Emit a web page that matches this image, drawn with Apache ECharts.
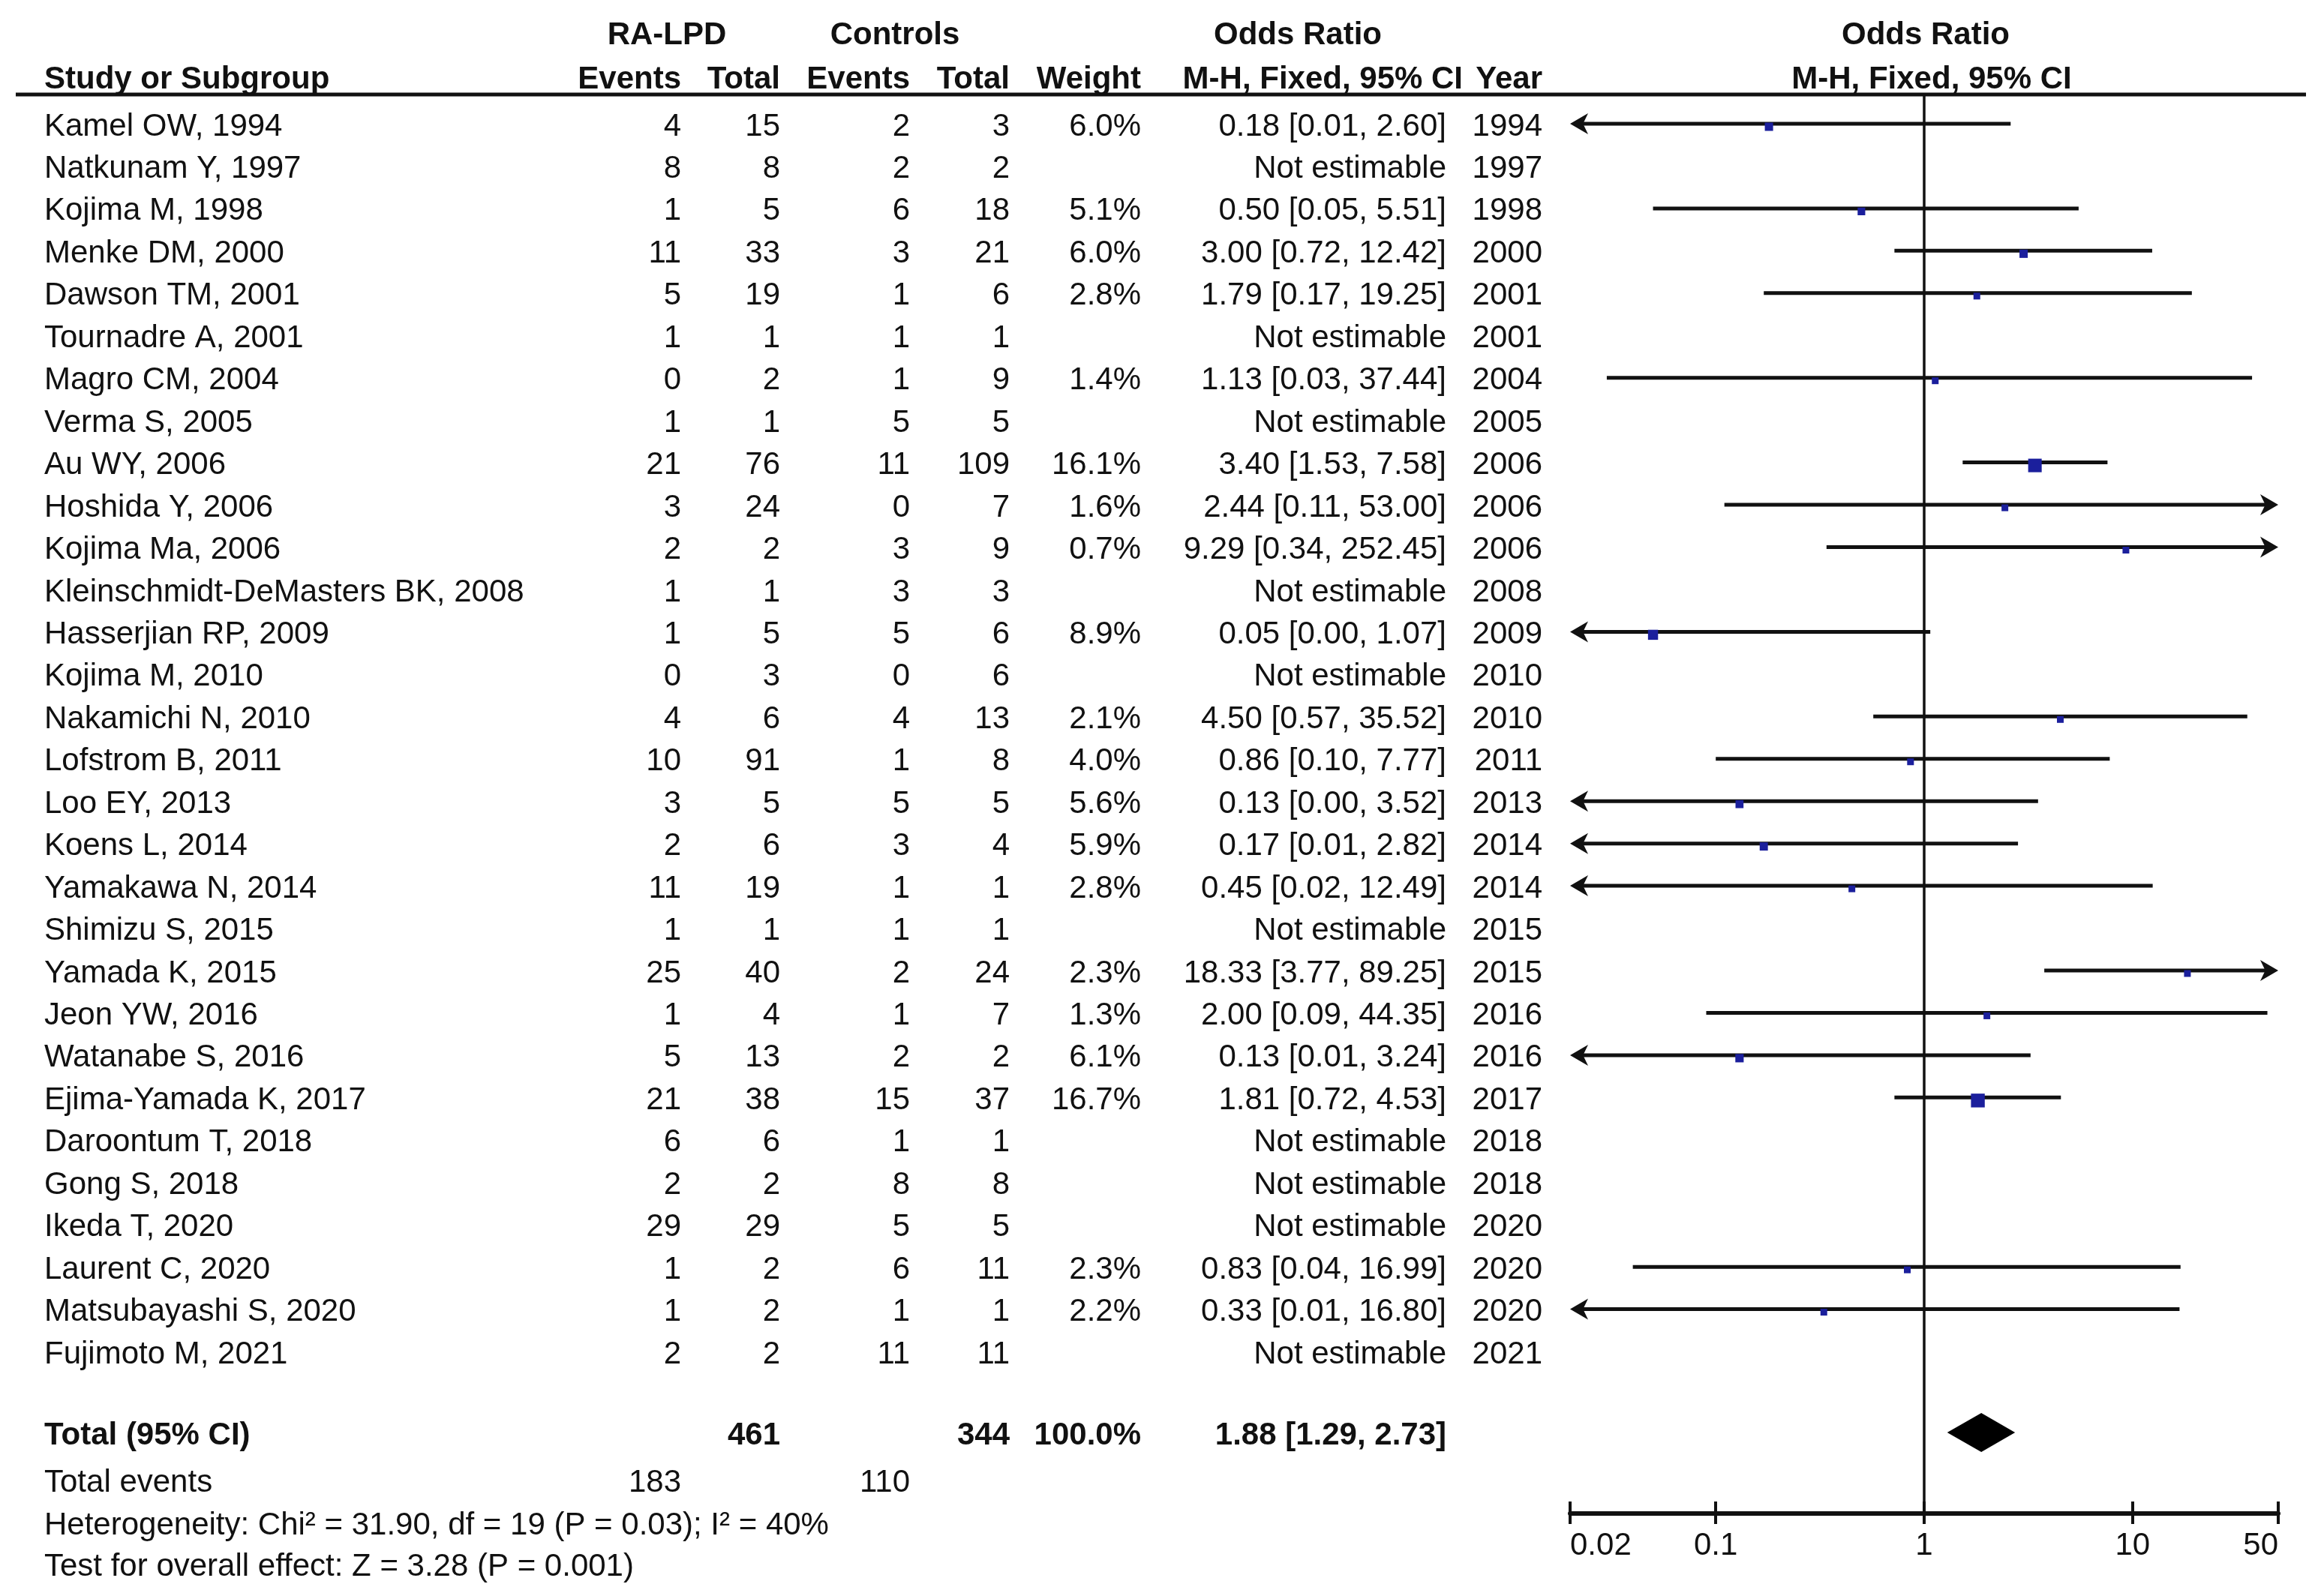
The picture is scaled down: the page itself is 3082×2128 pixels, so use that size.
<!DOCTYPE html>
<html><head><meta charset="utf-8">
<script src="https://cdn.jsdelivr.net/npm/echarts@6/dist/echarts.min.js"></script>
<style>html,body{margin:0;padding:0;background:#fff}#c{width:3082px;height:2128px}</style>
</head><body><div id="c"></div>
<script>
// ---------------- DATA ----------------
const studies = ["Kamel OW, 1994","Natkunam Y, 1997","Kojima M, 1998","Menke DM, 2000","Dawson TM, 2001","Tournadre A, 2001","Magro CM, 2004","Verma S, 2005","Au WY, 2006","Hoshida Y, 2006","Kojima Ma, 2006","Kleinschmidt-DeMasters BK, 2008","Hasserjian RP, 2009","Kojima M, 2010","Nakamichi N, 2010","Lofstrom B, 2011","Loo EY, 2013","Koens L, 2014","Yamakawa N, 2014","Shimizu S, 2015","Yamada K, 2015","Jeon YW, 2016","Watanabe S, 2016","Ejima-Yamada K, 2017","Daroontum T, 2018","Gong S, 2018","Ikeda T, 2020","Laurent C, 2020","Matsubayashi S, 2020","Fujimoto M, 2021"];
const raEvents   = [4,8,1,11,5,1,0,1,21,3,2,1,1,0,4,10,3,2,11,1,25,1,5,21,6,2,29,1,1,2];
const raTotal    = [15,8,5,33,19,1,2,1,76,24,2,1,5,3,6,91,5,6,19,1,40,4,13,38,6,2,29,2,2,2];
const ctrlEvents = [2,2,6,3,1,1,1,5,11,0,3,3,5,0,4,1,5,3,1,1,2,1,2,15,1,8,5,6,1,11];
const ctrlTotal  = [3,2,18,21,6,1,9,5,109,7,9,3,6,6,13,8,5,4,1,1,24,7,2,37,1,8,5,11,1,11];
const weights    = [6.0,null,5.1,6.0,2.8,null,1.4,null,16.1,1.6,0.7,null,8.9,null,2.1,4.0,5.6,5.9,2.8,null,2.3,1.3,6.1,16.7,null,null,null,2.3,2.2,null];
const orValues   = [0.18,null,0.50,3.00,1.79,null,1.13,null,3.40,2.44,9.29,null,0.05,null,4.50,0.86,0.13,0.17,0.45,null,18.33,2.00,0.13,1.81,null,null,null,0.83,0.33,null];
const ciLower    = [0.01,null,0.05,0.72,0.17,null,0.03,null,1.53,0.11,0.34,null,0.00,null,0.57,0.10,0.00,0.01,0.02,null,3.77,0.09,0.01,0.72,null,null,null,0.04,0.01,null];
const ciUpper    = [2.60,null,5.51,12.42,19.25,null,37.44,null,7.58,53.00,252.45,null,1.07,null,35.52,7.77,3.52,2.82,12.49,null,89.25,44.35,3.24,4.53,null,null,null,16.99,16.80,null];
const years      = [1994,1997,1998,2000,2001,2001,2004,2005,2006,2006,2006,2008,2009,2010,2010,2011,2013,2014,2014,2015,2015,2016,2016,2017,2018,2018,2020,2020,2020,2021];
const pooledOR   = [1.88, 1.29, 2.73];   // OR, lower, upper
const totalN     = [461, 344];
const totalEv    = [183, 110];
const totalWeight = "100.0%";
const axisTicks  = [0.02, 0.1, 1, 10, 50];
const heterogeneityText = "Heterogeneity: Chi² = 31.90, df = 19 (P = 0.03); I² = 40%";
const overallText = "Test for overall effect: Z = 3.28 (P = 0.001)";

// ---------------- LAYOUT ----------------
const FONT = '"Liberation Sans", Arial, Helvetica, sans-serif';
const FS = 42;
const TXT = '#111';
const TY = 4; // text baseline nudge
const GRID_TOP = 126, AXIS_Y = 2018, ROW0 = 165, STEP = 56.45;
const Y_MIN = (GRID_TOP - ROW0) / STEP, Y_MAX = (AXIS_Y - ROW0) / STEP;
const TOTAL_ROW = (1910 - ROW0) / STEP;
const PLOT_L = 2093, PLOT_R = 3037;
const X_MIN = axisTicks[0], X_MAX = axisTicks[axisTicks.length - 1];
const COL = {name: 59, raE: 908, raN: 1040, ctE: 1213, ctN: 1346, w: 1521, or: 1928, yr: 2056};

const lg = v => Math.log10(v);
const fmt2 = v => v.toFixed(2);
const ciText = (o, l, h) => fmt2(o) + ' [' + fmt2(l) + ', ' + fmt2(h) + ']';

function txt(x, y, text, align, bold) {
  return {type: 'text', x: x, y: y + TY, silent: true,
    style: {text: String(text), fill: TXT, font: (bold ? 'bold ' : '') + FS + 'px ' + FONT,
      align: align, verticalAlign: 'middle', textAlign: align, textVerticalAlign: 'middle'}};
}

// table rows
function renderRow(params, api) {
  const i = api.value(1);
  const y = api.coord([0, i])[1];
  const kids = [
    txt(COL.name, y, studies[i], 'left'),
    txt(COL.raE, y, raEvents[i], 'right'),
    txt(COL.raN, y, raTotal[i], 'right'),
    txt(COL.ctE, y, ctrlEvents[i], 'right'),
    txt(COL.ctN, y, ctrlTotal[i], 'right'),
    txt(COL.yr, y, years[i], 'right')
  ];
  if (weights[i] != null) kids.push(txt(COL.w, y, weights[i].toFixed(1) + '%', 'right'));
  kids.push(txt(COL.or, y, orValues[i] != null ? ciText(orValues[i], ciLower[i], ciUpper[i]) : 'Not estimable', 'right'));
  return {type: 'group', children: kids};
}

// forest marks
const AL = 24, AH = 14;
function renderStudy(params, api) {
  const i = api.value(0);
  const o = orValues[i], lo = ciLower[i], hi = ciUpper[i], w = weights[i];
  const y = api.coord([0, i])[1];
  const clipL = lo <= X_MIN, clipR = hi >= X_MAX;
  const xl = api.coord([lg(clipL ? X_MIN : lo), i])[0];
  const xr = api.coord([lg(clipR ? X_MAX : hi), i])[0];
  const xo = api.coord([lg(o), i])[0];
  const kids = [{type: 'line', shape: {x1: xl + (clipL ? AL * 0.6 : 0), y1: y, x2: xr - (clipR ? AL * 0.6 : 0), y2: y},
    style: {stroke: '#111', lineWidth: 5}}];
  if (clipL) kids.push({type: 'polygon', shape: {points: [[xl, y], [xl + AL, y - AH], [xl + AL * 0.72, y], [xl + AL, y + AH]]}, style: {fill: '#111'}});
  if (clipR) kids.push({type: 'polygon', shape: {points: [[xr, y], [xr - AL, y - AH], [xr - AL * 0.72, y], [xr - AL, y + AH]]}, style: {fill: '#111'}});
  const s = Math.max(9, 4.5 * Math.sqrt(w));
  kids.push({type: 'rect', shape: {x: xo - s / 2, y: y + 4 - s / 2, width: s, height: s}, style: {fill: '#1b1f9c'}});
  return {type: 'group', children: kids};
}

// pooled row
function renderTotal(params, api) {
  const r = api.value(1);
  const y = api.coord([0, r])[1];
  const xl = api.coord([lg(pooledOR[1]), r])[0];
  const xr = api.coord([lg(pooledOR[2]), r])[0];
  const xo = api.coord([lg(pooledOR[0]), r])[0];
  const D = 26;
  return {type: 'group', children: [
    {type: 'polygon', shape: {points: [[xl, y], [xo, y - D], [xr, y], [xo, y + D]]}, style: {fill: '#000'}},
    txt(COL.name, y, 'Total (95% CI)', 'left', true),
    txt(COL.raN, y, totalN[0], 'right', true),
    txt(COL.ctN, y, totalN[1], 'right', true),
    txt(COL.w, y, totalWeight, 'right', true),
    txt(COL.or, y, ciText(pooledOR[0], pooledOR[1], pooledOR[2]), 'right', true)
  ]};
}

const tickVals = axisTicks.map(lg);
const tickLabel = v => { const t = axisTicks.find(a => Math.abs(lg(a) - v) < 1e-6); return t == null ? '' : String(t); };

const studyData = [];
orValues.forEach((o, i) => { if (o != null) studyData.push([i, lg(o)]); });

const chart = echarts.init(document.getElementById('c'), null, {renderer: 'canvas'});
chart.setOption({
  backgroundColor: '#fff',
  animation: false,
  grid: {left: PLOT_L, right: 3082 - PLOT_R, top: GRID_TOP, bottom: 2128 - AXIS_Y, containLabel: false},
  xAxis: [{
    type: 'value', min: lg(X_MIN), max: lg(X_MAX), position: 'bottom',
    axisLine: {show: true, onZero: false, lineStyle: {color: '#111', width: 6}},
    axisTick: {show: true, inside: false, length: 14, customValues: tickVals, lineStyle: {color: '#111', width: 4}},
    axisLabel: {show: true, customValues: tickVals, formatter: tickLabel, fontSize: FS, fontFamily: FONT, color: TXT, margin: 22,
      alignMinLabel: 'left', alignMaxLabel: 'right'},
    splitLine: {show: false}
  }, {
    type: 'value', min: lg(X_MIN), max: lg(X_MAX), position: 'bottom', offset: 0,
    axisLine: {show: false, onZero: false},
    axisTick: {show: true, inside: true, length: 16, customValues: tickVals, lineStyle: {color: '#111', width: 4}},
    axisLabel: {show: false}, splitLine: {show: false}
  }],
  yAxis: {type: 'value', min: Y_MIN, max: Y_MAX, inverse: true, show: false, splitLine: {show: false}},
  graphic: [
    {type: 'line', silent: true, shape: {x1: 21, y1: GRID_TOP, x2: 3074, y2: GRID_TOP}, style: {stroke: '#111', lineWidth: 5}},
    txt(889, 43, 'RA-LPD', 'center', true),
    txt(1193, 43, 'Controls', 'center', true),
    txt(1730, 43, 'Odds Ratio', 'center', true),
    txt(2567, 43, 'Odds Ratio', 'center', true),
    txt(COL.name, 102, 'Study or Subgroup', 'left', true),
    txt(COL.raE, 102, 'Events', 'right', true),
    txt(COL.raN, 102, 'Total', 'right', true),
    txt(COL.ctE, 102, 'Events', 'right', true),
    txt(COL.ctN, 102, 'Total', 'right', true),
    txt(COL.w, 102, 'Weight', 'right', true),
    txt(1950, 102, 'M-H, Fixed, 95% CI', 'right', true),
    txt(COL.yr, 102, 'Year', 'right', true),
    txt(2575, 102, 'M-H, Fixed, 95% CI', 'center', true),
    txt(COL.name, 1973, 'Total events', 'left'),
    txt(COL.raE, 1973, totalEv[0], 'right'),
    txt(COL.ctE, 1973, totalEv[1], 'right'),
    txt(COL.name, 2030, heterogeneityText, 'left'),
    txt(COL.name, 2085, overallText, 'left')
  ],
  series: [{
    type: 'custom', name: 'table', clip: false, silent: true,
    data: studies.map((_, i) => [0, i]), encode: {x: 0, y: 1},
    renderItem: renderRow
  }, {
    type: 'custom', name: 'studies', clip: false, silent: true,
    data: studyData, encode: {x: 1, y: 0},
    renderItem: renderStudy,
    markLine: {silent: true, symbol: 'none', label: {show: false}, lineStyle: {color: '#111', width: 3.5, type: 'solid'},
      data: [{xAxis: 0}]}
  }, {
    type: 'custom', name: 'pooled', clip: false, silent: true,
    data: [[lg(pooledOR[0]), TOTAL_ROW]], encode: {x: 0, y: 1},
    renderItem: renderTotal
  }]
});
</script></body></html>
